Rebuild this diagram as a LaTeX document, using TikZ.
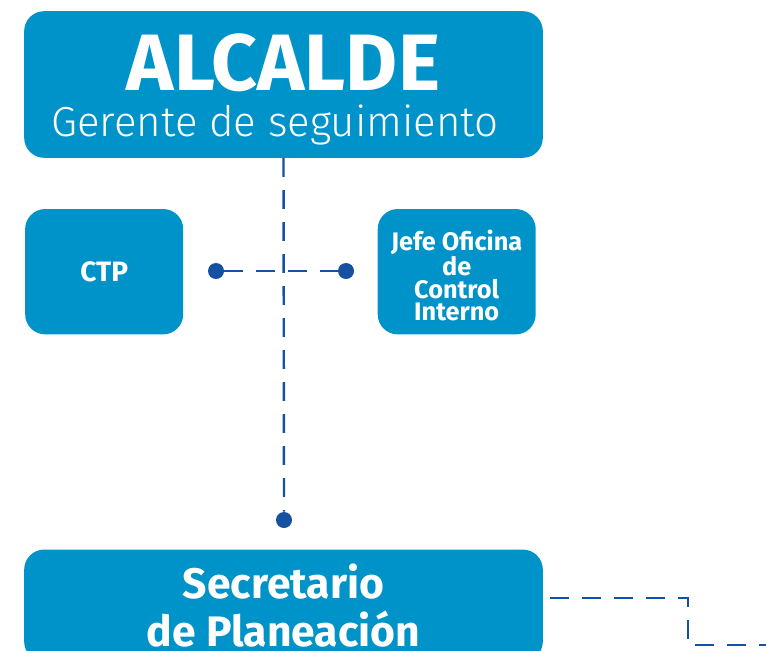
\documentclass[tikz,border=0pt]{standalone}
\usepackage{fontspec}
\setmainfont{Fira Sans}
\newfontfamily\thinfont{Fira Sans Light}
\usetikzlibrary{positioning}
\definecolor{orgblue}{RGB}{0,147,201}
\definecolor{linkblue}{RGB}{22,80,160}

\begin{document}
\begin{tikzpicture}[
    x=0.75pt, y=-0.75pt,
    box/.style={fill=orgblue, rounded corners=15pt, text=white, align=center, inner sep=0pt},
    dot/.style={circle, fill=linkblue, minimum size=12pt, inner sep=0pt},
    link/.style={linkblue, line width=1.8pt, dash pattern=on 14pt off 10pt},
]
\useasboundingbox (0,0) rectangle (766,650);

\node[box, minimum width=389pt, minimum height=110pt,
      font=\bfseries\fontsize{60}{35}\selectfont] (alcalde) at (283.5,84.5)
    {\rule{0pt}{50pt}ALCALDE\\\thinfont\mdseries\fontsize{31.5}{35}\selectfont Gerente de seguimiento\kern13pt};
\node[box, minimum width=118.5pt, minimum height=94pt, font=\bfseries\fontsize{21}{22}\selectfont,
      below=38pt of alcalde.south west, anchor=north west, xshift=0.75pt] (ctp) {CTP};
\node[box, minimum width=118.5pt, minimum height=94pt,
      font=\bfseries\fontsize{19}{17}\selectfont,
      right=145.5pt of ctp] (jefe) {\rule{0pt}{21.5pt}Jefe Oficina\\de\\Control\\Interno};
\node[box, minimum width=389pt, minimum height=84pt, font=\bfseries\fontsize{32}{36}\selectfont,
      below=161pt of ctp.south west, anchor=north west, xshift=-0.75pt] (secre) {Secretario\\de Planeación};

\node[dot] (dotL) at (216,271) {};
\node[dot] (dotR) at (346,271) {};
\node[dot] (dotB) at (284,520) {};

\coordinate (start) at (550,598);
\coordinate (drop) at (688,645);
\coordinate (exit) at (766,645);

\draw[link] (alcalde.south) -- (dotB.north);
\draw[link] (dotL) -- (dotR);
\draw[link] (start) -| (drop) -- (exit);
\end{tikzpicture}
\end{document}
